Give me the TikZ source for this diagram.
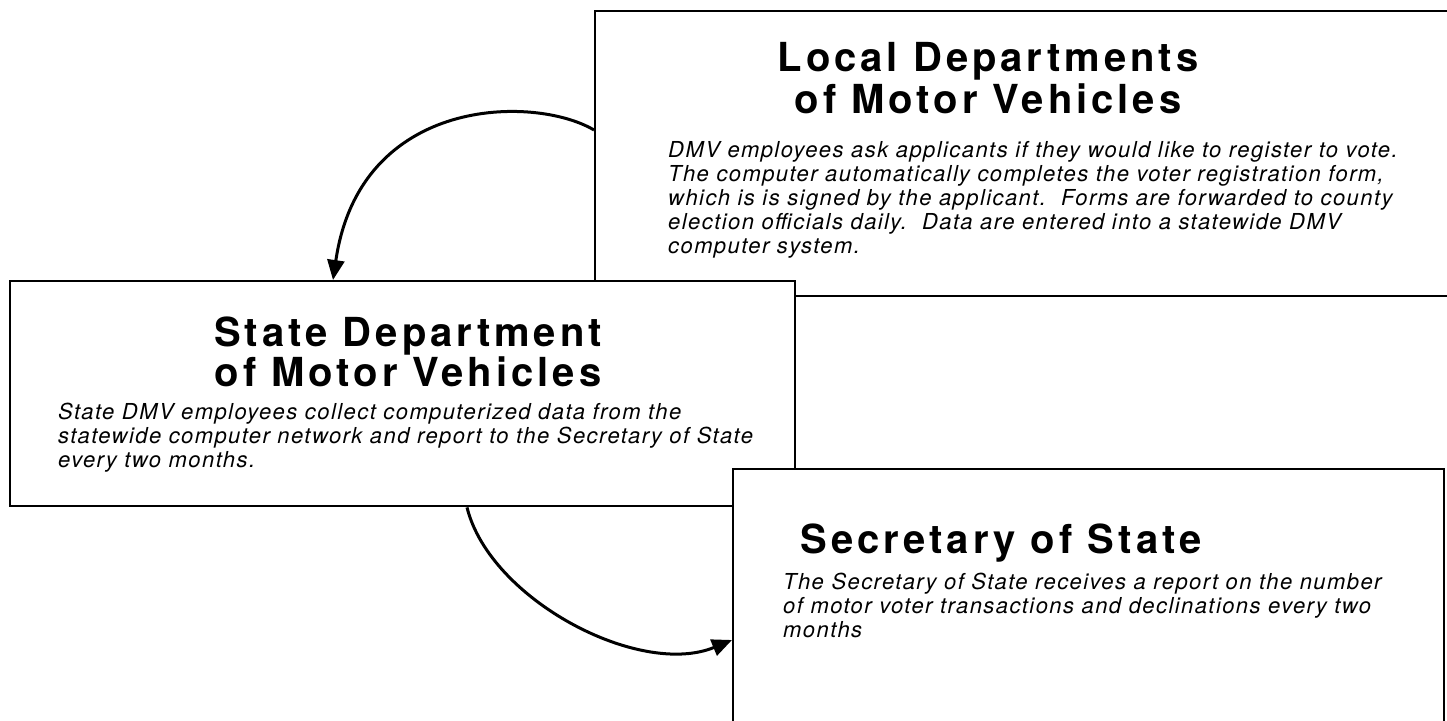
\documentclass[tikz,border=0pt]{standalone}
\usepackage{fontspec}
\setmainfont{TeX Gyre Heros}
\newfontfamily\titlefont[LetterSpace=10]{TeX Gyre Heros}
\newfontfamily\bodyfont[LetterSpace=6.5]{TeX Gyre Heros}
\usetikzlibrary{arrows.meta}
\begin{document}
\begin{tikzpicture}[x=1pt,y=-1pt,
  box/.style={draw=black, line width=2.4pt, fill=white, anchor=north west, inner sep=0pt},
  ttl/.style={font=\titlefont\bfseries\fontsize{40}{42}\selectfont, align=center, anchor=base, inner sep=0pt},
  body/.style={font=\bodyfont\itshape\fontsize{22}{24}\selectfont, align=left, anchor=base west, inner sep=0pt},
  conn/.style={line width=3pt, -{Triangle[length=20pt,width=17pt]}}]
\useasboundingbox (0,0) rectangle (1447,720);
\fill[white] (0,0) rectangle (1447,720);
% boxes (multi-line nodes: base anchor = baseline of last line)
\node[box, minimum width=855pt, minimum height=285pt] (local) at (594,10) {};
\node[ttl] (localT) at (988,113) {Local Departments\\of Motor Vehicles};
\node[body] (localB) at (668,253) {DMV employees ask applicants if they would like to register to vote.\\
The computer automatically completes the voter registration form,\\
which is is signed by the applicant.\ \ Forms are forwarded to county\\
election officials daily.\ \ Data are entered into a statewide DMV\\
computer system.};
\node[box, minimum width=785pt, minimum height=225pt] (state) at (9,280) {};
\node[ttl, font=\titlefont\bfseries\fontsize{40}{38}\selectfont] (stateT) at (408,386) {State Department\\of Motor Vehicles};
\node[body] (stateB) at (58,467) {State DMV employees collect computerized data from the\\
statewide computer network and report to the Secretary of State\\
every two months.};
\node[box, minimum width=711pt, minimum height=272pt] (sec) at (732,468) {};
\node[ttl] (secT) at (1001,553) {Secretary of State};
\node[body] (secB) at (783,637) {The Secretary of State receives a report on the number\\
of motor voter transactions and declinations every two\\
months};
% connectors
\draw[conn] ([yshift=-120pt]local.north west) .. controls (535,95) and (360,95) .. ([xshift=324pt]state.north west);
\draw[conn] ([xshift=458pt]state.south west) .. controls (490,600) and (640,678) .. ([yshift=-172pt]sec.north west);
\end{tikzpicture}
\end{document}
